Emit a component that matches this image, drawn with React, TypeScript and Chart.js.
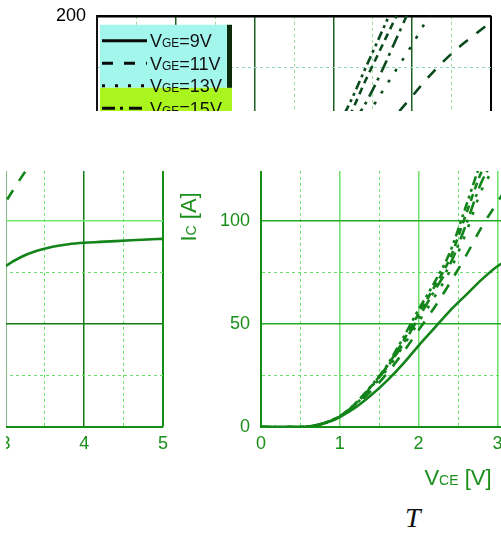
import React, { useEffect, useRef } from 'react';
import { Chart, registerables } from 'chart.js';

Chart.register(...registerables);

// ---------- data ----------
const VCE = [0, 0.5, 0.7, 0.9, 1.0, 1.2, 1.4, 1.6, 1.8, 2.0, 2.2, 2.4, 2.6, 2.8, 3.0, 3.2, 3.4, 3.6, 3.8, 4.0, 4.2, 4.4, 4.6, 4.8, 5.0];
const IC_9V = [0, 0, 0.8, 3, 4.8, 9.5, 15.5, 22.5, 30.5, 39.5, 48, 56.5, 64, 71.5, 78, 82.5, 85.5, 87.5, 88.7, 89.4, 89.8, 90.2, 90.6, 91, 91.3];
const IC_11V = [0, 0, 0.8, 3.2, 5, 10.5, 17.5, 26, 36, 47, 58, 70, 83, 97, 109, 121, 132, 142, 152, 161, 170, 178, 185, 191, 197];
const IC_13V = [0, 0, 0.8, 3.3, 5.1, 11, 19, 28, 39, 51, 63, 76, 94, 115, 128, 140, 150, 162, 174, 186, 199, 211];
const IC_15V = [0, 0, 0.8, 3.3, 5.1, 11.2, 19.5, 29, 40, 53, 66, 79, 98, 119, 132, 145, 157, 172, 189, 206];
const IC_17V = [0, 0, 0.8, 3.3, 5.2, 11.4, 19.8, 29.5, 41.5, 55, 68, 82, 103, 124, 138, 151, 168, 184, 200, 216];
const IC_20V = [0, 0, 0.8, 3.3, 5.2, 11.5, 20, 30, 43, 57, 70, 85, 107, 129, 143, 157, 174, 191, 208];
const GATE_LABELS = ['9V', '11V', '13V', '15V', '17V', '20V'];
const X_LABELED = [0, 1, 2, 3, 4, 5];
const Y_LABELED = [0, 50, 100, 150, 200];

const SERIES = [IC_9V, IC_11V, IC_13V, IC_15V, IC_17V, IC_20V];
const DASHES: number[][] = [[], [11, 11], [3, 10], [13, 5, 3, 6], [7, 5], [9, 4, 3, 4, 3, 4]];

const FONT = '"Liberation Sans", Arial, sans-serif';

type Theme = {
  curve: string;
  tick: string;
  axis: string;
  vSolid: string;
  h50: string;
  h100: string;
  dash: string;
  hDash: string;
  frame: string;
  legend: boolean;
  hideY: number[];
};

const TOP: Theme = {
  curve: '#0b4a1e', tick: '#000000', axis: '#111111', vSolid: '#1f5f22', h50: '#1f5f22',
  h100: '#1f5f22', dash: '#9adc9a', hDash: '#8ad6c8', frame: '#000000', legend: true, hideY: [150],
};
const LEFT: Theme = {
  curve: '#13841a', tick: '#1a8f1a', axis: '#139013', vSolid: '#137a13', h50: '#137a13',
  h100: '#6fe86f', dash: '#66e066', hDash: '#66e066', frame: '#139013', legend: false, hideY: [],
};
const RIGHT: Theme = {
  curve: '#13841a', tick: '#1a8f1a', axis: '#139013', vSolid: '#6ee06e', h50: '#22aa22',
  h100: '#22aa22', dash: '#66e066', hDash: '#66e066', frame: '#139013', legend: false, hideY: [],
};

function drawMixed(ctx: CanvasRenderingContext2D, parts: [string, number][], x: number, y: number, center: boolean) {
  let total = 0;
  for (const [t, s] of parts) {
    ctx.font = `${s}px ${FONT}`;
    total += ctx.measureText(t).width;
  }
  let cx = center ? x - total / 2 : x;
  ctx.textAlign = 'left';
  ctx.textBaseline = 'alphabetic';
  for (const [t, s] of parts) {
    ctx.font = `${s}px ${FONT}`;
    ctx.fillText(t, cx, y);
    cx += ctx.measureText(t).width;
  }
}

function buildConfig(theme: Theme): any {
  const datasets = SERIES.map((vals, i) => ({
    label: GATE_LABELS[i],
    data: vals.map((v, j) => ({ x: VCE[j], y: v })),
    borderColor: theme.curve,
    borderWidth: 2.6,
    borderDash: DASHES[i],
    pointRadius: 0,
    tension: 0.4,
    cubicInterpolationMode: 'monotone',
    fill: false,
  }));

  const titles = {
    id: 'titles',
    afterDraw(chart: any) {
      const { ctx, chartArea } = chart;
      ctx.save();
      ctx.fillStyle = theme.tick;
      drawMixed(ctx, [['V', 22], ['CE', 14], [' [V]', 22]], (chartArea.left + chartArea.right) / 2, chartArea.bottom + 58, true);
      ctx.translate(chartArea.left - 65, (chartArea.top + chartArea.bottom) / 2 - 4);
      ctx.rotate(-Math.PI / 2);
      drawMixed(ctx, [['I', 22], ['C', 14], [' [A]', 22]], 0, 0, true);
      ctx.restore();
    },
  };

  const legend = {
    id: 'vgeLegend',
    afterDraw(chart: any) {
      if (!theme.legend) return;
      const { ctx, chartArea } = chart;
      const L = chartArea.left + 3;
      const T = chartArea.top + 9;
      ctx.save();
      ctx.fillStyle = '#a2f6ec';
      ctx.fillRect(L, T, 132, 63);
      ctx.fillStyle = '#aaf51e';
      ctx.fillRect(L, T + 63, 132, 90);
      ctx.fillStyle = '#0a2a0a';
      ctx.fillRect(L + 127, T, 5, 63);
      chart.data.datasets.forEach((ds: any, i: number) => {
        const cy = T + 16 + i * 22.5;
        ctx.save();
        ctx.strokeStyle = '#0a0a0a';
        ctx.lineWidth = 3;
        ctx.setLineDash(ds.borderDash || []);
        ctx.beginPath();
        ctx.moveTo(L + 2, cy);
        ctx.lineTo(L + 47, cy);
        ctx.stroke();
        ctx.restore();
        ctx.fillStyle = '#111111';
        drawMixed(ctx, [['V', 18], ['GE', 12], ['=' + ds.label, 18]], L + 50, cy + 6.5, false);
      });
      ctx.restore();
    },
  };

  const isInt = (v: number) => Math.abs(v - Math.round(v)) < 1e-9;

  return {
    type: 'line',
    data: { datasets },
    plugins: [titles, legend],
    options: {
      animation: false,
      responsive: false,
      devicePixelRatio: 1,
      layout: { padding: { left: 30, right: 30, top: 20, bottom: 10 } },
      plugins: { legend: { display: false }, tooltip: { enabled: false } },
      scales: {
        x: {
          type: 'linear',
          min: 0,
          max: 5,
          afterFit: (s: any) => { s.height = 60; },
          ticks: {
            stepSize: 0.5,
            autoSkip: false,
            maxRotation: 0,
            padding: 6,
            color: theme.tick,
            font: { family: FONT, size: 18 },
            callback: (v: number) => (X_LABELED.includes(v) ? String(v) : ''),
          },
          grid: {
            drawTicks: false,
            color: (c: any) => {
              const v = c.tick ? c.tick.value : 0;
              if (v === 5) return theme.frame;
              return isInt(v) ? theme.vSolid : theme.dash;
            },
            lineWidth: (c: any) => {
              const v = c.tick ? c.tick.value : 0;
              if (v === 5) return 2;
              return isInt(v) ? 1.5 : 1;
            },
          },
          border: {
            color: theme.axis,
            width: 2,
            dash: (c: any) => (c.tick && !isInt(c.tick.value) ? [3, 3] : []),
          },
        },
        y: {
          type: 'linear',
          min: 0,
          max: 200,
          afterFit: (s: any) => { s.width = 70; },
          ticks: {
            stepSize: 25,
            autoSkip: false,
            padding: 11,
            color: theme.tick,
            font: { family: FONT, size: 18 },
            callback: (v: number) => (Y_LABELED.includes(v) && !theme.hideY.includes(v) ? String(v) : ''),
          },
          grid: {
            drawTicks: false,
            color: (c: any) => {
              const v = c.tick ? c.tick.value : 0;
              if (v === 200) return theme.frame;
              if (v % 50 !== 0) return theme.hDash;
              return v === 100 ? theme.h100 : theme.h50;
            },
            lineWidth: (c: any) => {
              const v = c.tick ? c.tick.value : 0;
              if (v === 200) return 2.5;
              return v % 50 === 0 ? 1.5 : 1;
            },
          },
          border: {
            color: theme.axis,
            width: 2,
            dash: (c: any) => (c.tick && c.tick.value % 50 !== 0 ? [3, 3] : []),
          },
        },
      },
    },
  };
}

type CopyProps = {
  theme: Theme;
  clip: { left: number; top: number; width: number; height: number };
  x0: number; // page x of VCE = 0
  yTop: number; // page y of IC = 200
};

function ChartCopy({ theme, clip, x0, yTop }: CopyProps) {
  const ref = useRef<HTMLCanvasElement | null>(null);
  useEffect(() => {
    const canvas = ref.current;
    if (!canvas) return;
    const chart = new Chart(canvas, buildConfig(theme));
    const ca = chart.chartArea;
    canvas.style.left = `${x0 - ca.left - clip.left}px`;
    canvas.style.top = `${yTop - ca.top - clip.top}px`;
    return () => chart.destroy();
  }, []);
  return (
    <div
      style={{
        position: 'absolute',
        left: clip.left,
        top: clip.top,
        width: clip.width,
        height: clip.height,
        overflow: 'hidden',
      }}
    >
      <canvas
        ref={ref}
        width={524}
        height={504}
        style={{ position: 'absolute', left: x0 - 100 - clip.left, top: yTop - 20 - clip.top }}
      />
    </div>
  );
}

export default function App() {
  return (
    <div
      style={{
        position: 'fixed',
        left: 0,
        top: 0,
        width: 501,
        height: 536,
        overflow: 'hidden',
        background: '#ffffff',
      }}
    >
      <ChartCopy theme={TOP} clip={{ left: 0, top: 0, width: 501, height: 111 }} x0={97} yTop={16} />
      <ChartCopy theme={LEFT} clip={{ left: 6, top: 171, width: 166, height: 290 }} x0={-231} yTop={15} />
      <ChartCopy theme={RIGHT} clip={{ left: 172, top: 171, width: 329, height: 365 }} x0={261} yTop={15} />
      <span
        style={{
          position: 'absolute',
          left: 405,
          top: 504,
          fontFamily: '"Liberation Serif", "Times New Roman", serif',
          fontStyle: 'italic',
          fontSize: 28,
          lineHeight: '28px',
          color: '#111111',
        }}
      >
        T
      </span>
    </div>
  );
}
